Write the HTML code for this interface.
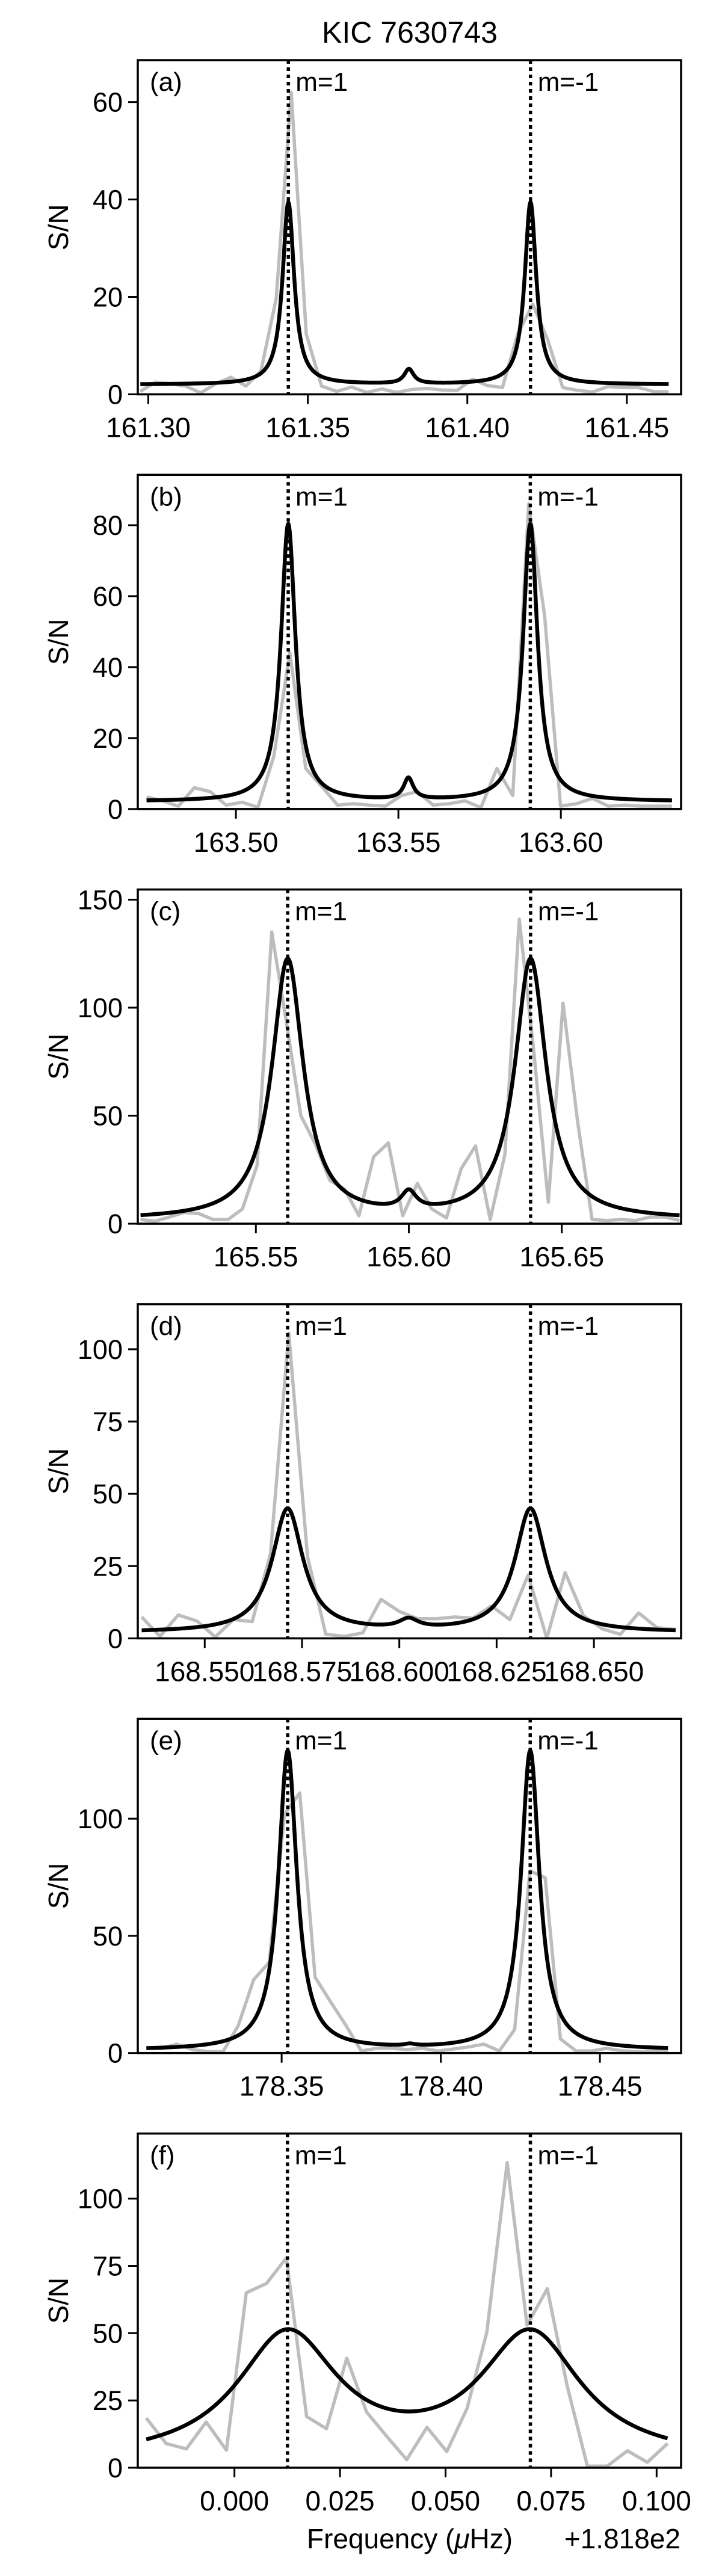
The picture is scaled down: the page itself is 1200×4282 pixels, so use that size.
<!DOCTYPE html>
<html><head><meta charset="utf-8"><title>KIC 7630743</title>
<style>
html,body{margin:0;padding:0;background:#fff;}
svg text{font-family:"Liberation Sans",Arial,sans-serif;fill:#000;}
</style></head>
<body>
<svg id="fig" xmlns="http://www.w3.org/2000/svg" width="1200" height="4277" viewBox="0 0 1200 4277">
<rect width="1200" height="4277" fill="#fff"/>
<text x="681" y="71" font-size="50" text-anchor="middle">KIC 7630743</text>
<text x="681" y="4236" font-size="46" text-anchor="middle">Frequency (<tspan font-style="italic">μ</tspan>Hz)</text>
<text x="1131" y="4236" font-size="46" text-anchor="end">+1.818e2</text>
</svg>
<script>
// ---- data (per panel) ----
const panelLabels = ["(a)","(b)","(c)","(d)","(e)","(f)"];
const xMins = [161.2967, 163.4698, 165.5114, 168.5328, 178.3048, -0.0229];
const xMaxs = [161.4670, 163.6370, 165.6890, 168.6724, 178.4755, 0.1058];
const yMaxs = [68.6, 94.2, 154.7, 115.6, 142.6, 124.2];
const yTicks = [[0,20,40,60],[0,20,40,60,80],[0,50,100,150],[0,25,50,75,100],[0,50,100],[0,25,50,75,100]];
const xTicks = [[161.30,161.35,161.40,161.45],[163.50,163.55,163.60],[165.55,165.60,165.65],[168.550,168.575,168.600,168.625,168.650],[178.35,178.40,178.45],[0.000,0.025,0.050,0.075,0.100]];
const xTickLabels = [["161.30","161.35","161.40","161.45"],["163.50","163.55","163.60"],["165.55","165.60","165.65"],["168.550","168.575","168.600","168.625","168.650"],["178.35","178.40","178.45"],["0.000","0.025","0.050","0.075","0.100"]];
// m=1 / m=-1 frequencies
const mPlus = [161.3439, 163.5161, 165.5604, 168.5713, 178.3519, 0.01255];
const mMinus = [161.4198, 163.5906, 165.6398, 168.6337, 178.4281, 0.0701];
// model (fit) parameters
const peakAmp = [37.4, 78.2, 120.3, 42.7, 127.6, 46.7];
const peakWidth = [0.0022, 0.0027, 0.0062, 0.0048, 0.0035, 0.0145];
const centralFreq = [161.3817, 163.5531, 165.6000, 168.6024, 178.3903, 0.041];
const centralAmp = [3.0, 6.0, 8.5, 3.2, 0.8, 0];
const centralWidth = [0.0018, 0.0018, 0.0030, 0.0030, 0.0020, 0.01];
const background = [2.0, 2.1, 1.7, 2.0, 1.2, 2.0];
// observed spectra (gray)
const freqA = [161.2975,161.3022,161.3070,161.3117,161.3164,161.3212,161.3259,161.3306,161.3353,161.3401,161.3448,161.3495,161.3543,161.3590,161.3637,161.3685,161.3732,161.3779,161.3826,161.3874,161.3921,161.3968,161.4016,161.4063,161.4110,161.4158,161.4205,161.4252,161.4299,161.4347,161.4394,161.4441,161.4489,161.4536,161.4583,161.4631];
const snA = [0.6,2.5,2.2,1.7,0.3,2.2,3.5,1.7,4.8,19.7,62,12.4,1.7,0.6,1.5,0.4,1.1,0.4,1.0,1.2,0.9,0.8,3.1,1.8,1.4,12.4,18.5,11.2,1.4,0.8,0.5,1.6,1.4,1.4,0.6,0.5];
const freqB = [163.4725,163.4774,163.4823,163.4872,163.4921,163.4970,163.5019,163.5068,163.5117,163.5166,163.5215,163.5264,163.5313,163.5362,163.5411,163.5460,163.5509,163.5558,163.5607,163.5656,163.5705,163.5754,163.5803,163.5852,163.5901,163.5950,163.5999,163.6048,163.6097,163.6146,163.6195,163.6244,163.6293,163.6342];
const snB = [3.4,2.3,0.8,6,4.9,1.1,1.9,0.5,15,44,11.4,6.4,1.1,1.5,1.1,0.8,3.8,4.9,1.1,1.5,2.3,0.4,11.4,3.8,86,54.5,0.8,1.5,3,0.8,1.1,0.8,0.8,0.8];
const freqC = [165.5123,165.5171,165.5218,165.5266,165.5313,165.5361,165.5409,165.5456,165.5504,165.5552,165.5599,165.5647,165.5694,165.5742,165.5790,165.5837,165.5885,165.5933,165.5980,165.6028,165.6075,165.6123,165.6171,165.6218,165.6266,165.6314,165.6361,165.6409,165.6456,165.6504,165.6552,165.6599,165.6647,165.6694,165.6742,165.6790,165.6837,165.6885];
const snC = [1.9,1.2,3.1,5.2,4.7,1.9,1.9,6.8,27,135,94,50,37,20,16,3.7,31,37.4,3.7,18.6,6.8,2.7,25.4,36,1.9,32,141,79,10,102,47,1.9,1.5,1.9,1.5,3.1,3.1,1.5];
const freqD = [168.5338,168.5385,168.5432,168.5480,168.5527,168.5574,168.5622,168.5669,168.5716,168.5764,168.5811,168.5858,168.5906,168.5953,168.6000,168.6047,168.6095,168.6142,168.6189,168.6237,168.6284,168.6331,168.6379,168.6426,168.6473,168.6521,168.6568,168.6615,168.6662,168.6710];
const snD = [7.4,0.7,8.1,6,0.5,6.5,5.8,29.3,105.6,28.4,1.4,0.7,1.9,13.5,9.3,6.8,6.8,7.4,7,11.2,6.5,21.9,0,22.8,7.9,3.3,1.4,8.8,3.7,3.1];
const freqE = [178.3075,178.3123,178.3171,178.3220,178.3268,178.3316,178.3364,178.3412,178.3461,178.3509,178.3557,178.3605,178.3653,178.3702,178.3750,178.3798,178.3846,178.3894,178.3943,178.3991,178.4039,178.4087,178.4135,178.4184,178.4232,178.4280,178.4328,178.4376,178.4425,178.4473,178.4521,178.4569,178.4617,178.4666,178.4714];
const snE = [2,2,3.8,1.5,0.6,0.6,11.8,31.3,38.7,102,111,32.4,22,11.8,0.9,2,2,1.5,2,0.9,1.7,2.6,3.8,0.9,10,77.7,74.8,6,0.9,0.9,2,1,0.6,0.6,0.9];
const freqF = [-0.0209,-0.0162,-0.0114,-0.0067,-0.0019,0.0028,0.0076,0.0123,0.0171,0.0218,0.0266,0.0313,0.0361,0.0408,0.0456,0.0503,0.0551,0.0598,0.0646,0.0693,0.0741,0.0788,0.0836,0.0883,0.0931,0.0978,0.1026];
const snF = [18.5,9,7,17,6.5,65,68.5,78,19,14.5,40.7,20.7,11.6,3,15,6,22,50.5,113.4,53,66.5,30.5,0.6,0.6,6.3,2,9];
const freqs = [freqA,freqB,freqC,freqD,freqE,freqF];
const sns = [snA,snB,snC,snD,snE,snF];

// ---- layout ----
const NS = "http://www.w3.org/2000/svg";
const svg = document.getElementById("fig");
const AX_L = 229, AX_R = 1132, AX_H = 555.5, TOP0 = 100, STEP = 689.3;

function mk(tag, attrs, parent){
  const e = document.createElementNS(NS, tag);
  for (const k in attrs) e.setAttribute(k, attrs[k]);
  (parent||svg).appendChild(e);
  return e;
}
function lor(x, x0, a, g){ const d=(x-x0)/g; return a/(1+d*d); }

for (let i=0;i<6;i++){
  const top = TOP0 + STEP*i, bot = top + AX_H;
  const xs = v => AX_L + (v - xMins[i])/(xMaxs[i]-xMins[i])*(AX_R-AX_L);
  const ys = v => bot - v/yMaxs[i]*AX_H;
  const g = mk("g", {});
  
  
  const cp = mk("clipPath", {id:"clip"+i}, g);
  mk("rect", {x:AX_L, y:top, width:AX_R-AX_L, height:AX_H}, cp);
  const plot = mk("g", {"clip-path":"url(#clip"+i+")"}, g);

  // gray observed spectrum
  const fr = freqs[i], sn = sns[i];
  let d = "";
  for (let k=0;k<fr.length;k++) d += (k?"L":"M") + xs(fr[k]).toFixed(2) + "," + ys(sn[k]).toFixed(2);
  const gp = mk("path", {d:d, fill:"none", stroke:"#bdbdbd", "stroke-width":5.5, "stroke-linejoin":"round"}, plot);
  
  

  // model fit
  let md = "";
  const x0 = fr[0], x1 = fr[fr.length-1], N = 900;
  for (let k=0;k<=N;k++){
    const x = x0 + (x1-x0)*k/N;
    const y = background[i] + lor(x,mPlus[i],peakAmp[i],peakWidth[i]) + lor(x,mMinus[i],peakAmp[i],peakWidth[i]) + lor(x,centralFreq[i],centralAmp[i],centralWidth[i]);
    md += (k?"L":"M") + xs(x).toFixed(2) + "," + ys(y).toFixed(2);
  }
  const bp = mk("path", {d:md, fill:"none", stroke:"#000", "stroke-width":6.5, "stroke-linejoin":"round"}, plot);
  
  

  // dotted m lines
  [[mPlus[i],"m=1"],[mMinus[i],"m=-1"]].forEach(function(p, j){
    const x = xs(p[0]);
    const l = mk("line", {x1:x, x2:x, y1:top, y2:bot, stroke:"#000", "stroke-width":5.5, "stroke-dasharray":"6 6"}, g);
    
    
    const t = mk("text", {x:x+12, y:top+51, "font-size":44}, g);
    t.textContent = p[1];
    
    
  });

  // frame
  const fr2 = mk("rect", {x:AX_L, y:top, width:AX_R-AX_L, height:AX_H, fill:"none", stroke:"#000", "stroke-width":3.5}, g);
  
  

  // y ticks
  yTicks[i].forEach(function(v){
    const y = ys(v);
    const tl = mk("line", {x1:AX_L-16, x2:AX_L, y1:y, y2:y, stroke:"#000", "stroke-width":3}, g);
    
    
    const t = mk("text", {x:AX_L-25, y:y+16, "font-size":45, "text-anchor":"end"}, g);
    t.textContent = String(v);
    
    
  });
  // x ticks
  xTicks[i].forEach(function(v, k){
    const x = xs(v);
    const tl = mk("line", {x1:x, x2:x, y1:bot, y2:bot+16, stroke:"#000", "stroke-width":3}, g);
    
    
    const t = mk("text", {x:x, y:bot+71, "font-size":46, "text-anchor":"middle"}, g);
    t.textContent = xTickLabels[i][k];
    
    
  });
  // panel letter
  const pl = mk("text", {x:249, y:top+51, "font-size":44}, g);
  pl.textContent = panelLabels[i];
  
  
  // y axis title
  const yc = top + AX_H/2;
  const yl = mk("text", {x:0, y:0, "font-size":46, "text-anchor":"middle", transform:"translate(113," + yc + ") rotate(-90)"}, g);
  yl.textContent = "S/N";
  
  
}
</script>
</body></html>
